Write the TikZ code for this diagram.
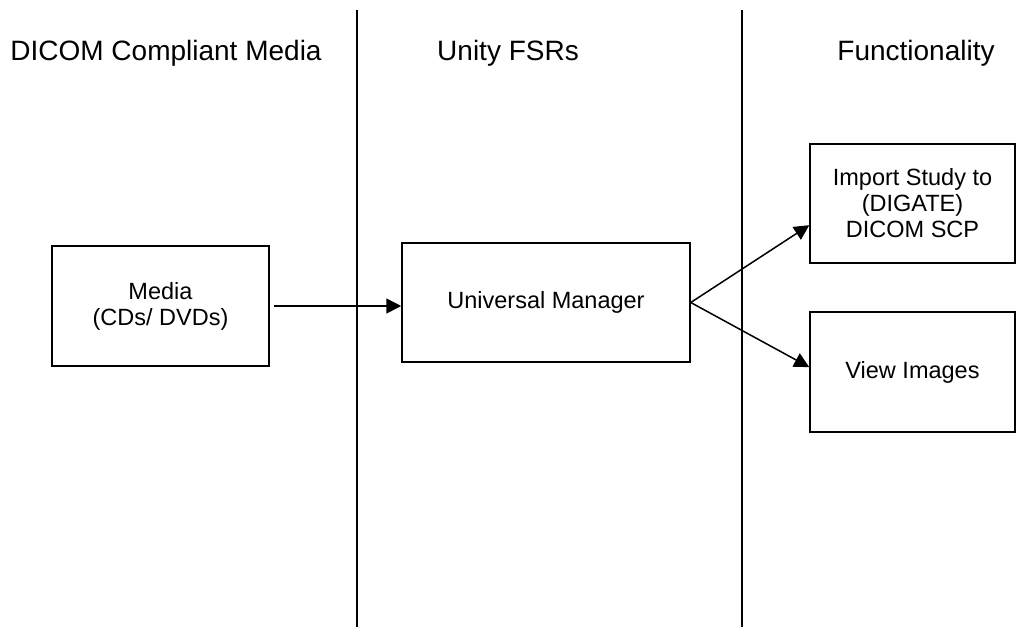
\documentclass[tikz,border=0pt]{standalone}
\usepackage{fontspec}
\setmainfont{Liberation Sans}
\usetikzlibrary{arrows.meta,calc}
\begin{document}
\begin{tikzpicture}[x=1pt,y=-1pt,
  lane/.style={line width=1.3pt},
  box/.style={draw,line width=1.5pt,inner sep=0pt,align=center,
    font=\fontsize{23.5}{26}\selectfont},
  head/.style={font=\fontsize{28}{32}\selectfont,inner sep=0pt},
  conn/.style={line width=1.5pt,-{Triangle[length=15pt,width=15pt]}}]
\useasboundingbox (0,0) rectangle (1016,627);
\draw[lane] (357,10) coordinate (l1t) -- (357,627) coordinate (l1b);
\draw[lane] (742,10) coordinate (l2t) -- (742,627) coordinate (l2b);
\node[head,anchor=base] (h1) at (166,60) {DICOM Compliant Media};
\node[head,anchor=base] (h2) at (508,60) {Unity FSRs};
\node[head,anchor=base] (h3) at (916,60) {Functionality};
\node[box,minimum width=217pt,minimum height=120pt] (media) at (160.5,306) {Media\\(CDs/ DVDs)};
\node[box,minimum width=288pt,minimum height=119pt] (um) at (546,302.5) {Universal Manager};
\node[box,minimum width=205pt,minimum height=119pt] (imp) at (912.5,203.5) {Import Study to\\(DIGATE)\\DICOM SCP};
\node[box,minimum width=205pt,minimum height=120pt] (view) at (912.5,372) {View Images};
\draw[conn] ($(media.east)+(4,0)$) -- (um.west |- media.east);
\draw[conn] (um.east) -- ($(imp.north west)!0.68!(imp.south west)$);
\draw[conn] (um.east) -- ($(view.north west)!0.46!(view.south west)$);
\end{tikzpicture}
\end{document}
